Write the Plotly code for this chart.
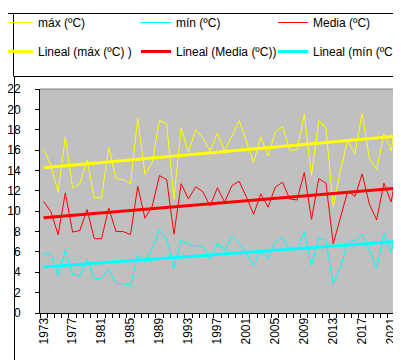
import numpy as np
import plotly.graph_objects as go

years = list(range(1973, 2023))
tmax = [16.1, 14.5, 11.9, 17.3, 12.3, 12.7, 15.0, 11.3, 11.3, 16.3,
        13.2, 13.1, 12.7, 19.1, 13.6, 14.8, 18.9, 18.6, 11.2, 18.2,
        15.8, 18.0, 17.2, 15.9, 17.7, 15.9, 17.4, 18.9, 16.9, 14.8,
        17.3, 15.4, 17.8, 18.3, 16.0, 16.0, 19.5, 13.5, 18.85, 18.2,
        10.45, 14.0, 16.95, 15.65, 19.6, 15.15, 14.1, 17.6, 15.9, 20.3]
tmin = [5.85, 5.75, 3.7, 6.2, 3.8, 3.6, 5.25, 3.4, 3.4, 4.3,
        2.9, 2.9, 2.7, 5.7, 5.0, 6.3, 8.2, 7.3, 4.4, 7.15,
        6.65, 6.65, 6.55, 5.3, 6.85, 6.1, 7.6, 6.85, 5.95, 4.65,
        6.1, 5.3, 6.97, 7.4, 6.3, 6.23, 7.95, 4.65, 7.4, 7.14,
        2.85, 4.5, 7.0, 7.1, 7.75, 6.2, 4.4, 7.87, 5.9, 9.25]
tmed = [10.95, 9.95, 7.7, 11.8, 7.95, 8.1, 10.17, 7.3, 7.3, 10.3,
        8.0, 8.0, 7.7, 12.45, 9.3, 10.5, 13.5, 13.1, 7.75, 12.7,
        11.2, 12.4, 11.9, 10.5, 12.3, 10.9, 12.5, 12.95, 11.4, 9.7,
        11.7, 10.4, 12.35, 12.85, 11.2, 11.1, 13.8, 9.2, 13.2, 12.75,
        6.8, 9.4, 11.95, 11.45, 13.65, 10.7, 9.15, 12.75, 10.9, 14.9]
tick_years = list(range(1973, 2023, 4))

YELLOW, CYAN, RED = "#FFFF00", "#00FFFF", "#FF0000"
FONT = "Arial, Liberation Sans, sans-serif"

W, H = 401, 360
L, R, T, B = 32, 394, 81, 305


def px(x):
    return (x - L) / (R - L)


def py(y):
    return (B - y) / (B - T)


def trend(vals):
    a, b = np.polyfit(np.array(years, dtype=float), np.array(vals, dtype=float), 1)
    return [a * yy + b for yy in years]


fig = go.Figure()
series = [("máx (ºC)", tmax, YELLOW, "legend"),
          ("mín (ºC)", tmin, CYAN, "legend2"),
          ("Media (ºC)", tmed, RED, "legend3")]
for name, vals, col, lg in series:
    fig.add_trace(go.Scatter(x=years, y=vals, mode="lines", name=name,
                             line=dict(color=col, width=1),
                             legend=lg, legendgroup=name, hoverinfo="skip"))
trends = [("Lineal (máx (ºC) )", tmax, YELLOW, "legend"),
          ("Lineal (Media (ºC))", tmed, RED, "legend2"),
          ("Lineal (mín (ºC))", tmin, CYAN, "legend3")]
for name, vals, col, lg in trends:
    fig.add_trace(go.Scatter(x=years, y=trend(vals), mode="lines", name=name,
                             line=dict(color=col, width=3),
                             legend=lg, legendgroup=name, hoverinfo="skip"))

leg_common = dict(orientation="v", xref="paper", yref="paper",
                  xanchor="left", yanchor="top", bgcolor="rgba(0,0,0,0)",
                  borderwidth=0, tracegroupgap=10,
                  font=dict(family=FONT, size=12, color="black"))
leg_top = py(0)

shapes = []
def hline(x0, x1, y, color="black", w=1):
    shapes.append(dict(type="line", xref="paper", yref="paper",
                       x0=px(x0), x1=px(x1), y0=py(y), y1=py(y),
                       line=dict(color=color, width=w)))
def vline(x, y0, y1, color="black", w=1):
    shapes.append(dict(type="line", xref="paper", yref="paper",
                       x0=px(x), x1=px(x), y0=py(y0), y1=py(y1),
                       line=dict(color=color, width=w)))

hline(L, R, T, "#808080")
hline(0, 396, 5.5)
vline(5.5, 5, 68)
hline(5.5, 396, 68.5)
vline(6.5, 68, 355)
hline(6.5, 395.5, 355.5)
vline(395.5, 5, 356)

fig.update_layout(
    width=W, height=H,
    margin=dict(l=L, r=W - R, t=T, b=H - B, autoexpand=False),
    paper_bgcolor="white", plot_bgcolor="#C0C0C0",
    font=dict(family=FONT, size=12, color="black"),
    showlegend=True,
    legend=dict(x=px(-10), y=leg_top, **leg_common),
    legend2=dict(x=px(128), y=leg_top, **leg_common),
    legend3=dict(x=px(265), y=leg_top, **leg_common),
    shapes=shapes,
    xaxis=dict(range=[1972.5, 2022.5], tickmode="linear", tick0=tick_years[0],
               dtick=4, tickangle=-90, ticks="", ticklabelstandoff=-1,
               showline=True, linecolor="black", linewidth=1,
               showgrid=False, zeroline=False, automargin=False,
               tickfont=dict(family=FONT, size=12, color="black"),
               minor=dict(tick0=1972.5, dtick=1,
                          ticks="outside", ticklen=4, tickcolor="black",
                          showgrid=False)),
    yaxis=dict(range=[0, 22], tick0=0, dtick=2, ticks="outside", ticklen=4,
               tickcolor="black", showline=True, linecolor="black",
               linewidth=1, showgrid=False, zeroline=False, automargin=False,
               ticklabelstandoff=12,
               tickfont=dict(family=FONT, size=12, color="black")),
)

fig.write_html("out.html")
